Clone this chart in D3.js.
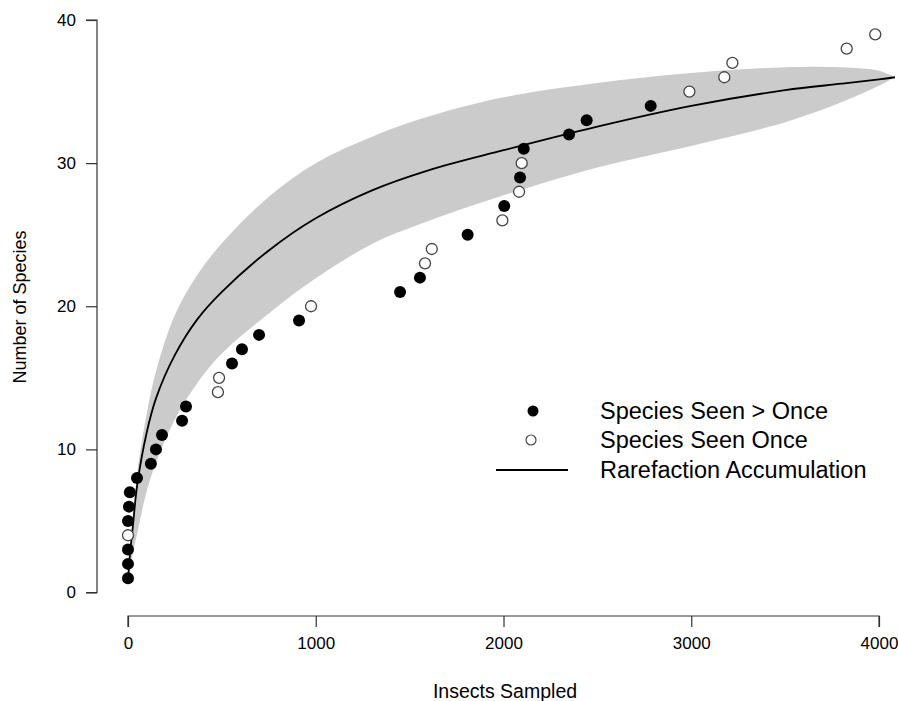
<!DOCTYPE html>
<html>
<head>
<meta charset="utf-8">
<script src="https://cdn.jsdelivr.net/npm/d3@7"></script>
<style>
  html, body { margin: 0; padding: 0; background: #fff; }
  svg { display: block; font-family: "Liberation Sans", Arial, Helvetica, sans-serif; }
</style>
</head>
<body>
<svg id="chart" width="898" height="701"></svg>
<script>
// ---- data ----
const seenMoreX = [0, 0, 0, 0, 5, 10, 48, 122, 149, 181, 288, 309, 554, 607, 698, 911, 1449, 1555, 1809, 2004, 2088, 2108, 2349, 2443, 2784];
const seenMoreY = [1, 2, 3, 5, 6, 7, 8, 9, 10, 11, 12, 13, 16, 17, 18, 19, 21, 22, 25, 27, 29, 31, 32, 33, 34];
const seenOnceX = [0, 479, 485, 975, 1582, 1618, 1994, 2083, 2097, 2990, 3176, 3219, 3828, 3980];
const seenOnceY = [4, 14, 15, 20, 23, 24, 26, 28, 30, 35, 36, 37, 38, 39];

const rareX     = [1,   10,  25,  50,  100,  150,  250,  370,   500,  750,   1000,  1300,  1600,  2000,  2500,  3000, 3500,  3800,  4000,  4085];
const rareMean  = [1.0, 2.6, 4.5, 7.6, 11.2, 13.6, 16.6, 19.1,  21.0, 23.9,  26.15, 28.1,  29.5,  30.9,  32.55, 34.0, 35.1,  35.55, 35.85, 36.0];
const rareUpper = [1.0, 2.9, 5.1, 8.4, 12.5, 15.5, 19.4, 22.2,  24.4, 27.65, 30.0,  31.85, 33.25, 34.6,  35.6,  36.3, 36.7,  36.7,  36.45, 36.0];
const rareLower = [1.0, 1.6, 2.7, 4.2, 7.1,  9.1,  12.1, 14.65, 16.7, 19.5,  21.95, 24.35, 25.95, 27.75, 29.7,  31.2, 32.85, 34.25, 35.4,  36.0];

const xTicks = [0, 1000, 2000, 3000, 4000];
const yTicks = [0, 10, 20, 30, 40];
const legendLabels = ["Species Seen > Once", "Species Seen Once", "Rarefaction Accumulation"];

// ---- layout ----
const svg = d3.select("#chart");
const x = d3.scaleLinear().domain([0, 4000]).range([128, 879]);
const y = d3.scaleLinear().domain([0, 40]).range([592.5, 20]);

const rare = rareX.map((v, i) => ({ x: v, m: rareMean[i], u: rareUpper[i], l: rareLower[i] }));
const smooth = d3.curveCatmullRom.alpha(0.5);

// band
svg.append("path")
  .datum(rare)
  .attr("fill", "#cbcbcb")
  .attr("d", d3.area().curve(smooth)
    .x(d => x(d.x)).y0(d => y(d.l)).y1(d => y(d.u)));

// mean line
svg.append("path")
  .datum(rare)
  .attr("fill", "none")
  .attr("stroke", "#000")
  .attr("stroke-width", 1.8)
  .attr("d", d3.line().curve(smooth).x(d => x(d.x)).y(d => y(d.m)));

// points
const filled = seenMoreX.map((v, i) => ({ x: v, y: seenMoreY[i] }));
const open = seenOnceX.map((v, i) => ({ x: v, y: seenOnceY[i] }));

svg.append("g").selectAll("circle").data(filled).join("circle")
  .attr("cx", d => x(d.x)).attr("cy", d => y(d.y)).attr("r", 6)
  .attr("fill", "#000");

svg.append("g").selectAll("circle").data(open).join("circle")
  .attr("cx", d => x(d.x)).attr("cy", d => y(d.y)).attr("r", 5.5)
  .attr("fill", "#fff").attr("stroke", "#444").attr("stroke-width", 1.3);

// axes
const xAxis = svg.append("g").attr("transform", "translate(0,616)")
  .call(d3.axisBottom(x).tickValues(xTicks).tickSize(11).tickPadding(10).tickFormat(d3.format("d")));
const yAxis = svg.append("g").attr("transform", "translate(97,0)")
  .call(d3.axisLeft(y).tickValues(yTicks).tickSize(11).tickPadding(10));

[xAxis, yAxis].forEach(g => {
  g.select(".domain").attr("stroke", "#333").attr("stroke-width", 1.2);
  g.selectAll(".tick line").attr("stroke", "#333").attr("stroke-width", 1.2);
  g.selectAll(".tick text").attr("fill", "#000").style("font-size", "17px")
    .style("font-family", "\"Liberation Sans\", Arial, sans-serif");
});
xAxis.select(".domain").attr("d", `M${x(0)},11V0H${x(4000)}V11`);
yAxis.select(".domain").attr("d", `M-11,${y(0)}H0V${y(40)}H-11`);

// axis titles
svg.append("text")
  .attr("x", 505).attr("y", 698)
  .attr("text-anchor", "middle")
  .style("font-size", "19.5px")
  .text("Insects Sampled");

svg.append("text")
  .attr("transform", "translate(26,307) rotate(-90)")
  .attr("text-anchor", "middle")
  .style("font-size", "18px")
  .text("Number of Species");

// legend
const lg = svg.append("g");
const rows = [411, 440, 470];
lg.append("circle").attr("cx", 533).attr("cy", rows[0]).attr("r", 5.5).attr("fill", "#000");
lg.append("circle").attr("cx", 531).attr("cy", rows[1]).attr("r", 5)
  .attr("fill", "#fff").attr("stroke", "#444").attr("stroke-width", 1.2);
lg.append("line").attr("x1", 496).attr("x2", 568).attr("y1", rows[2]).attr("y2", rows[2])
  .attr("stroke", "#000").attr("stroke-width", 1.8);
lg.selectAll("text.lab").data(legendLabels).join("text")
  .attr("class", "lab")
  .attr("x", 600).attr("y", (d, i) => rows[i])
  .attr("dy", "0.36em")
  .style("font-size", "23.5px")
  .text(d => d);
</script>
</body>
</html>
